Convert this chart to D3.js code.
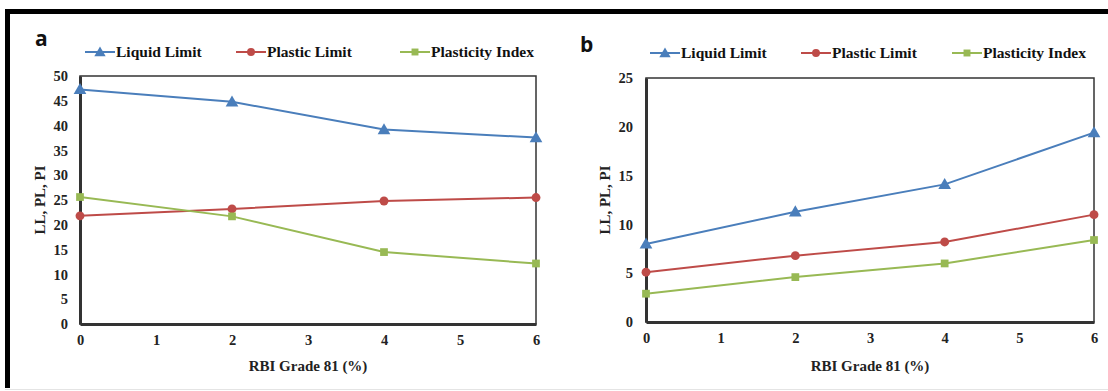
<!DOCTYPE html>
<html>
<head>
<meta charset="utf-8">
<script src="https://cdn.jsdelivr.net/npm/d3@7"></script>
<style>
  html, body { margin: 0; padding: 0; background: #fff; }
  svg { display: block; }
  .serif { font-family: "Liberation Serif", "Times New Roman", serif; font-weight: bold; }
  .letter { font-family: "Open Sans", "DejaVu Sans", sans-serif; font-weight: bold; }
</style>
</head>
<body>
<svg id="chart" width="1108" height="391"></svg>
<script>
// RBI Grade 81 content (%)
const xValues = [0, 2, 4, 6];
const xTicks = [0, 1, 2, 3, 4, 5, 6];

// panel a
const llA = [47.3, 44.8, 39.2, 37.6];
const plA = [21.8, 23.2, 24.8, 25.5];
const piA = [25.6, 21.7, 14.5, 12.2];
const yTicksA = [0, 5, 10, 15, 20, 25, 30, 35, 40, 45, 50];

// panel b
const llB = [8.0, 11.3, 14.1, 19.4];
const plB = [5.1, 6.8, 8.2, 11.0];
const piB = [2.9, 4.6, 6.0, 8.4];
const yTicksB = [0, 5, 10, 15, 20, 25];

const seriesNames = ["Liquid Limit", "Plastic Limit", "Plasticity Index"];
const colors = ["#4a7ebb", "#be4b48", "#98b954"];
const markers = [d3.symbolTriangle, d3.symbolCircle, d3.symbolSquare];
const markerSize = [70, 62, 60];

const svg = d3.select("#chart");

// outer frame (top and left black border, faint bottom line)
svg.append("rect").attr("x", 5).attr("y", 9).attr("width", 1103).attr("height", 5).attr("fill", "#000");
svg.append("rect").attr("x", 5).attr("y", 9).attr("width", 5).attr("height", 379).attr("fill", "#000");
svg.append("line").attr("x1", 5).attr("x2", 1108).attr("y1", 389.5).attr("y2", 389.5)
    .attr("stroke", "#e4e4e4").attr("stroke-width", 1);

function drawPanel(cfg) {
    const g = svg.append("g");
    const x = d3.scaleLinear().domain([0, 6]).range([cfg.left, cfg.right]);
    const y = d3.scaleLinear().domain([0, cfg.yMax]).range([cfg.bottom, cfg.top]);

    // plot box
    g.append("rect")
        .attr("x", cfg.left).attr("y", cfg.top)
        .attr("width", cfg.right - cfg.left).attr("height", cfg.bottom - cfg.top)
        .attr("fill", "none").attr("stroke", "#333").attr("stroke-width", 1.5);

    const xAxis = g.append("g")
        .attr("transform", `translate(0,${cfg.bottom})`)
        .call(d3.axisBottom(x).tickValues(xTicks).tickSize(0).tickPadding(11).tickFormat(d3.format("d")));
    xAxis.select(".domain").attr("stroke", "#333").attr("stroke-width", 3);

    const yAxis = g.append("g")
        .attr("transform", `translate(${cfg.left},0)`)
        .call(d3.axisLeft(y).tickValues(cfg.yTicks).tickSize(0).tickPadding(cfg.yPad).tickFormat(d3.format("d")));
    yAxis.select(".domain").attr("stroke", "#333").attr("stroke-width", 3);

    g.selectAll(".tick text")
        .attr("class", "serif")
        .attr("font-family", null)
        .style("font-size", "14.5px").attr("fill", "#222");

    // axis titles
    g.append("text")
        .attr("class", "serif")
        .attr("x", (cfg.left + cfg.right) / 2).attr("y", 371)
        .attr("text-anchor", "middle")
        .style("font-size", "15px").attr("fill", "#222")
        .text("RBI Grade 81 (%)");
    g.append("text")
        .attr("class", "serif")
        .attr("transform", `translate(${cfg.yTitleX},${(cfg.top + cfg.bottom) / 2}) rotate(-90)`)
        .attr("text-anchor", "middle")
        .style("font-size", "15px").attr("fill", "#222")
        .text("LL, PL, PI");

    // panel letter
    g.append("text")
        .attr("class", "letter")
        .attr("x", cfg.letterX).attr("y", cfg.letterY)
        .style("font-size", "21px").attr("fill", "#111")
        .text(cfg.letter);

    // series
    const line = d3.line().x((d, i) => x(xValues[i])).y(d => y(d));
    cfg.series.forEach((vals, s) => {
        g.append("path")
            .datum(vals)
            .attr("d", line)
            .attr("fill", "none")
            .attr("stroke", colors[s]).attr("stroke-width", 2);
        g.selectAll(null)
            .data(vals)
            .join("path")
            .attr("transform", (d, i) => `translate(${x(xValues[i])},${y(d) + (s === 0 ? 1 : 0)})`)
            .attr("d", d3.symbol().type(markers[s]).size(markerSize[s]))
            .attr("fill", colors[s]);
    });

    // legend
    cfg.legendX.forEach((lx, s) => {
        const lg = g.append("g").attr("transform", `translate(${lx},${cfg.legendY})`);
        lg.append("line").attr("x1", 0).attr("x2", 30).attr("y1", 0).attr("y2", 0)
            .attr("stroke", colors[s]).attr("stroke-width", 2);
        lg.append("path")
            .attr("transform", `translate(15,${s === 0 ? 1 : 0})`)
            .attr("d", d3.symbol().type(markers[s]).size(markerSize[s] * 0.8))
            .attr("fill", colors[s]);
        lg.append("text")
            .attr("class", "serif")
            .attr("x", 31).attr("y", 5)
            .style("font-size", "15.5px").attr("fill", "#111")
            .text(seriesNames[s]);
    });
}

drawPanel({
    letter: "a", letterX: 35, letterY: 46,
    left: 80, right: 536, top: 76, bottom: 324,
    yMax: 50, yTicks: yTicksA, yPad: 12, yTitleX: 45,
    series: [llA, plA, piA],
    legendX: [85, 236, 400], legendY: 52
});

drawPanel({
    letter: "b", letterX: 580, letterY: 52,
    left: 646, right: 1094, top: 78, bottom: 322,
    yMax: 25, yTicks: yTicksB, yPad: 13, yTitleX: 610,
    series: [llB, plB, piB],
    legendX: [650, 801, 952], legendY: 53
});
</script>
</body>
</html>
